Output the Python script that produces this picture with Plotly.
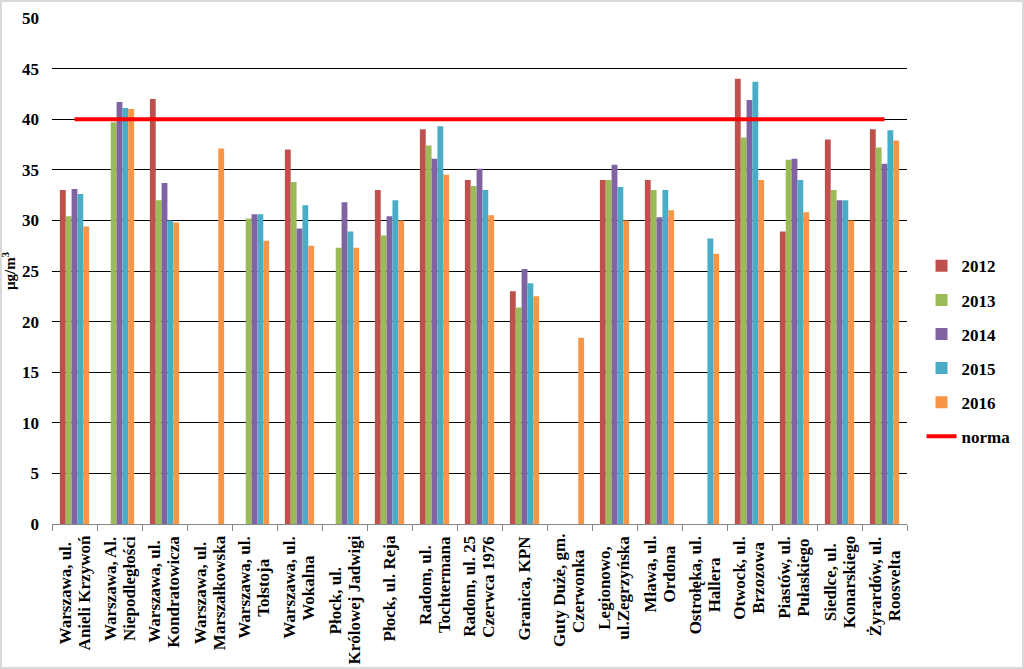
import plotly.graph_objects as go

categories = [
    "Warszawa, ul.<br>Anieli Krzywoń",
    "Warszawa, Al.<br>Niepodległości",
    "Warszawa, ul.<br>Kondratowicza",
    "Warszawa, ul.<br>Marszałkowska",
    "Warszawa, ul.<br>Tołstoja",
    "Warszawa, ul.<br>Wokalna",
    "Płock, ul.<br>Królowej Jadwigi",
    "Płock, ul. Reja",
    "Radom, ul.<br>Tochtermana",
    "Radom, ul. 25<br>Czerwca 1976",
    "Granica, KPN",
    "Guty Duże, gm.<br>Czerwonka",
    "Legionowo,<br>ul.Zegrzyńska",
    "Mława, ul.<br>Ordona",
    "Ostrołęka, ul.<br>Hallera",
    "Otwock, ul.<br>Brzozowa",
    "Piastów, ul.<br>Pułaskiego",
    "Siedlce, ul.<br>Konarskiego",
    "Żyrardów, ul.<br>Roosvelta",
]

y2012 = [33.0, None, 42.0, None, None, 37.0, None, 33.0, 39.0, 34.0, 23.0, None, 34.0, 34.0, None, 44.0, 28.9, 38.0, 39.0]
y2013 = [30.4, 39.7, 32.0, None, 30.2, 33.8, 27.3, 28.5, 37.4, 33.4, 21.4, None, 34.0, 33.0, None, 38.2, 36.0, 33.0, 37.2]
y2014 = [33.1, 41.7, 33.7, None, 30.6, 29.2, 31.8, 30.4, 36.1, 35.1, 25.2, None, 35.5, 30.3, None, 41.9, 36.1, 32.0, 35.6]
y2015 = [32.6, 41.1, 30.0, None, 30.6, 31.5, 28.9, 32.0, 39.3, 33.0, 23.8, None, 33.3, 33.0, 28.2, 43.7, 34.0, 32.0, 38.9]
y2016 = [29.4, 41.0, 29.8, 37.1, 28.0, 27.5, 27.3, 30.0, 34.5, 30.5, 22.5, 18.4, 30.0, 31.0, 26.7, 34.0, 30.8, 30.0, 37.9]
norma = [40, 40, 40, 40, 40, 40, 40, 40, 40, 40, 40, 40, 40, 40, 40, 40, 40, 40, 40]

series = [
    ("2012", y2012, "#C0504D"),
    ("2013", y2013, "#9BBB59"),
    ("2014", y2014, "#8064A2"),
    ("2015", y2015, "#4BACC6"),
    ("2016", y2016, "#F79646"),
]

FONT = "Liberation Serif, Times New Roman, serif"
LABEL_SIZE = 17
LINE_PITCH = 19
LABEL_TOP = 12

# approximate Times Bold advance widths (per 1000 em) for label layout
_W = {" ": 250, ",": 250, ".": 250, "a": 500, "b": 556, "c": 444, "d": 556, "e": 444,
      "f": 333, "g": 500, "h": 556, "i": 278, "j": 333, "k": 556, "l": 278, "m": 833,
      "n": 556, "o": 500, "p": 556, "r": 444, "s": 389, "t": 333, "u": 556, "w": 722,
      "v": 500, "y": 500, "z": 444, "A": 722, "C": 722, "G": 778, "H": 722, "J": 500,
      "K": 778, "L": 667, "M": 944, "N": 722, "O": 778, "P": 611, "R": 722, "S": 556,
      "T": 667, "W": 1000, "Z": 667, "ł": 278, "ń": 556, "ę": 444, "ó": 500, "ż": 444,
      "Ż": 667, "ś": 389}


def text_len(s):
    return sum(_W.get(ch, 500 if ch.isdigit() else 520) for ch in s) * LABEL_SIZE / 1000.0


fig = go.Figure()
for name, vals, col in series:
    fig.add_trace(go.Bar(x=categories, y=vals, name=name, marker_color=col,
                         marker_line_width=0, legendgroup=name))

fig.add_trace(go.Scatter(x=categories, y=norma,
                         mode="lines", name="norma", legendgroup="norma",
                         line=dict(color="#FF0000", width=4)))

for c in categories:
    lines = c.split("<br>")
    block = max(text_len(s) for s in lines)
    n = len(lines)
    for i, s in enumerate(lines):
        xs = (i - (n - 1) / 2.0) * LINE_PITCH
        fig.add_annotation(x=c, xref="x", y=0, yref="paper",
                           yshift=-(LABEL_TOP + block / 2.0), xshift=xs,
                           text=s, textangle=-90, xanchor="center", yanchor="middle",
                           showarrow=False,
                           font=dict(family=FONT, size=LABEL_SIZE, color="black",
                                     weight="bold"))

L, R, T, B = 52, 117, 18, 145
W, H = 1024, 669
pw, ph = W - L - R, H - T - B

fig.add_shape(type="rect", xref="paper", yref="paper",
              x0=-(L - 1) / pw, x1=(W - L - 1) / pw,
              y0=-(B - 1) / ph, y1=(H - B - 1) / ph,
              line=dict(color="#D9D9D9", width=2), layer="below")

fig.update_layout(
    width=W, height=H,
    margin=dict(l=L, r=R, t=T, b=B, autoexpand=False),
    paper_bgcolor="white", plot_bgcolor="white",
    barmode="group", bargap=0.35, bargroupgap=0,
    font=dict(family=FONT, color="black"),
    showlegend=True,
    legend=dict(x=1.017, y=0.545, xanchor="left", yanchor="top",
                font=dict(family=FONT, size=17, color="black", weight="bold"),
                tracegroupgap=9, bgcolor="rgba(0,0,0,0)"),
    xaxis=dict(showticklabels=False, tickson="boundaries", ticks="outside",
               ticklen=6, tickcolor="#868686", showline=True, linecolor="#868686",
               linewidth=1, showgrid=False, range=[-0.5, 18.5]),
    yaxis=dict(range=[0, 50], dtick=5, showgrid=True, gridcolor="black", gridwidth=1,
               showline=False, zeroline=False, ticks="", ticklabelstandoff=12,
               tickfont=dict(family=FONT, size=17, color="black", weight="bold"),
               title=dict(text="µg/m<sup>3</sup>", standoff=6,
                          font=dict(family=FONT, size=15, color="black", weight="bold"))),
)

fig.write_html("out.html", config={"displayModeBar": False},
               post_script="document.body.style.margin='0';")
